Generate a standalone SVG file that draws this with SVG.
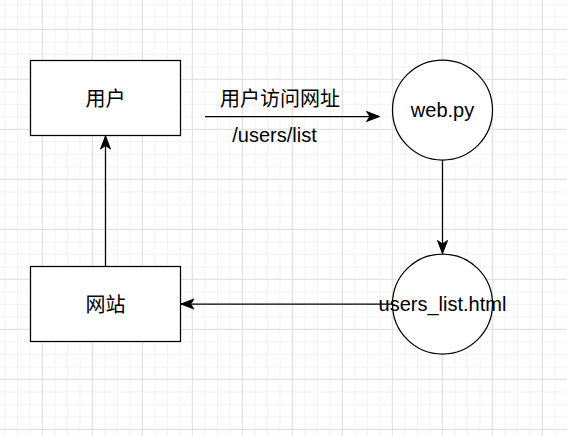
<svg xmlns="http://www.w3.org/2000/svg" width="567" height="436" viewBox="0 0 567 436">
  <style>
    .box { fill: #ffffff; stroke: #000000; stroke-width: 1.25; }
    .conn { fill: none; stroke: #000000; stroke-width: 1.25; }
    .lbl { font-family: "Liberation Sans", "Noto Sans CJK SC", Arial, sans-serif; font-size: 20px; fill: #000000; text-anchor: middle; }
  </style>
  <defs>
    <pattern id="grid" patternUnits="userSpaceOnUse" x="-8.2" y="-21.2" width="50" height="50">
      <rect x="12.5" y="0" width="1" height="50" fill="#f1f1f1"/>
      <rect x="25" y="0" width="1" height="50" fill="#f1f1f1"/>
      <rect x="37.5" y="0" width="1" height="50" fill="#f1f1f1"/>
      <rect x="0" y="12.5" width="50" height="1" fill="#f1f1f1"/>
      <rect x="0" y="25" width="50" height="1" fill="#f1f1f1"/>
      <rect x="0" y="37.5" width="50" height="1" fill="#f1f1f1"/>
      <rect x="0" y="0" width="1" height="50" fill="#dcdcdc"/>
      <rect x="0" y="0" width="50" height="1" fill="#dcdcdc"/>
    </pattern>
    <marker id="arrow" markerUnits="userSpaceOnUse" markerWidth="16" markerHeight="12" viewBox="-14 -6 16 12" refX="0" refY="0" orient="auto" overflow="visible">
      <path d="M0,0 L-13,-5 L-9.5,0 L-13,5 Z" fill="#000000" stroke="#000000" stroke-width="1"/>
    </marker>
  </defs>
  <rect x="0" y="0" width="567" height="436" fill="#ffffff"/>
  <rect x="0" y="0" width="567" height="436" fill="url(#grid)"/>

  <g id="connectors">
    <line class="conn" x1="205" y1="116.5" x2="379.5" y2="116.5" marker-end="url(#arrow)"/>
    <line class="conn" x1="442.5" y1="160" x2="442.5" y2="253.5" marker-end="url(#arrow)"/>
    <line class="conn" x1="392.5" y1="304" x2="181" y2="304" marker-end="url(#arrow)"/>
    <line class="conn" x1="105.5" y1="266.5" x2="105.5" y2="136" marker-end="url(#arrow)"/>
  </g>

  <g id="edge-label">
    <text class="lbl" x="280" y="106">用户访问网址</text>
    <text class="lbl" x="274.5" y="142">/users/list</text>
  </g>

  <g id="node-user">
    <rect class="box" x="30.5" y="60.5" width="150" height="75"/>
    <text class="lbl" x="105.5" y="106">用户</text>
  </g>

  <g id="node-site">
    <rect class="box" x="30.5" y="266.5" width="150" height="75"/>
    <text class="lbl" x="105.5" y="311.5">网站</text>
  </g>

  <g id="node-webpy">
    <circle class="box" cx="442.5" cy="110" r="50"/>
    <text class="lbl" x="442.5" y="117">web.py</text>
  </g>

  <g id="node-userslist">
    <circle class="box" cx="442.5" cy="304" r="50"/>
    <text class="lbl" x="442.5" y="311">users_list.html</text>
  </g>
</svg>
